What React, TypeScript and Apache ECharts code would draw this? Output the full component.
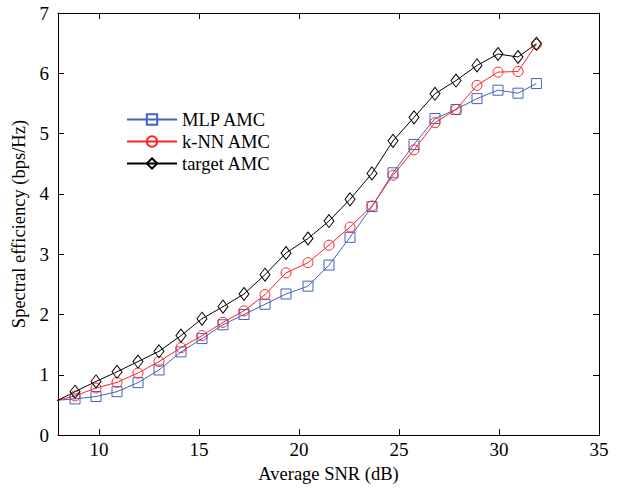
import React, { useEffect, useRef } from "react";
import * as echarts from "echarts";

const snr = [7.75, 8.8, 9.85, 10.9, 11.95, 13.0, 14.1, 15.15, 16.2, 17.25, 18.3, 19.35, 20.45, 21.5, 22.55, 23.65, 24.7, 25.75, 26.8, 27.85, 28.9, 29.95, 30.95, 31.87];
const mlp = [0.575, 0.6, 0.64, 0.72, 0.87, 1.08, 1.38, 1.6, 1.83, 2.0, 2.17, 2.34, 2.47, 2.82, 3.28, 3.79, 4.35, 4.82, 5.25, 5.4, 5.58, 5.72, 5.67, 5.83];
const knn = [0.56, 0.65, 0.78, 0.875, 1.03, 1.22, 1.45, 1.65, 1.87, 2.06, 2.33, 2.69, 2.86, 3.15, 3.45, 3.8, 4.31, 4.73, 5.18, 5.4, 5.8, 6.02, 6.03, 6.48];
const target = [0.545, 0.72, 0.89, 1.05, 1.22, 1.39, 1.65, 1.93, 2.13, 2.34, 2.66, 3.02, 3.26, 3.55, 3.91, 4.34, 4.88, 5.27, 5.66, 5.88, 6.13, 6.32, 6.27, 6.49];
const xTicks = [10, 15, 20, 25, 30, 35];
const seriesNames = ["MLP AMC", "k-NN AMC", "target AMC"];

const FONT = "Liberation Serif";

export default function App() {
  const ref = useRef<HTMLDivElement>(null);
  useEffect(() => {
    if (!ref.current) return;
    const chart = echarts.init(ref.current, undefined, { renderer: "svg" });
    const mk = (name: string, vals: number[], color: string, symbol: string, size: any) => ({
      name,
      type: "line",
      data: snr.map((x, i) => [x, vals[i]]),
      symbol,
      symbolSize: size,
      clip: true,
      lineStyle: { color, width: 1 },
      itemStyle: { color: "rgba(255,255,255,0)", borderColor: color, borderWidth: 1 },
      emphasis: { disabled: true },
    });
    const tickCommon = { inside: true, length: 6, lineStyle: { color: "#000", width: 1 } };
    chart.setOption({
      animation: false,
      backgroundColor: "#fff",
      grid: { left: 58, top: 13, width: 541, height: 424 },
      legend: {
        orient: "vertical",
        left: 121,
        top: 105,
        itemWidth: 50,
        itemHeight: 13,
        itemGap: 3,
        data: seriesNames,
        textStyle: { fontFamily: FONT, fontSize: 18.5, color: "#000" },
      },
      xAxis: [
        {
          type: "value",
          min: 7.95,
          max: 35,
          name: "Average SNR (dB)",
          nameLocation: "middle",
          nameGap: 20,
          nameTextStyle: { fontFamily: FONT, fontSize: 18.5, color: "#000" },
          axisLine: { show: true, lineStyle: { color: "#000", width: 1 } },
          axisTick: { ...tickCommon, customValues: xTicks },
          axisLabel: { customValues: xTicks, fontFamily: FONT, fontSize: 19, color: "#000", margin: 5 },
          splitLine: { show: false },
        },
        {
          type: "value",
          position: "top",
          min: 7.95,
          max: 35,
          axisLine: { show: true, onZero: false, lineStyle: { color: "#000", width: 1 } },
          axisTick: { ...tickCommon, customValues: xTicks },
          axisLabel: { show: false },
          splitLine: { show: false },
        },
      ],
      yAxis: [
        {
          type: "value",
          min: 0,
          max: 7,
          interval: 1,
          name: "Spectral efficiency (bps/Hz)",
          nameLocation: "middle",
          nameGap: 21,
          nameTextStyle: { fontFamily: FONT, fontSize: 18.5, color: "#000" },
          axisLine: { show: true, lineStyle: { color: "#000", width: 1 } },
          axisTick: tickCommon,
          axisLabel: { fontFamily: FONT, fontSize: 19, color: "#000", margin: 9 },
          splitLine: { show: false },
        },
        {
          type: "value",
          position: "right",
          min: 0,
          max: 7,
          interval: 1,
          axisLine: { show: true, onZero: false, lineStyle: { color: "#000", width: 1 } },
          axisTick: tickCommon,
          axisLabel: { show: false },
          splitLine: { show: false },
        },
      ],
      series: [
        mk(seriesNames[0], mlp, "#4262be", "rect", 10),
        mk(seriesNames[1], knn, "#ff2222", "circle", 10),
        mk(seriesNames[2], target, "#000000", "diamond", [10, 13]),
      ],
    });
    return () => chart.dispose();
  }, []);
  return (
    <div
      ref={ref}
      style={{ position: "absolute", left: 0, top: 0, width: 617, height: 488 }}
    />
  );
}
